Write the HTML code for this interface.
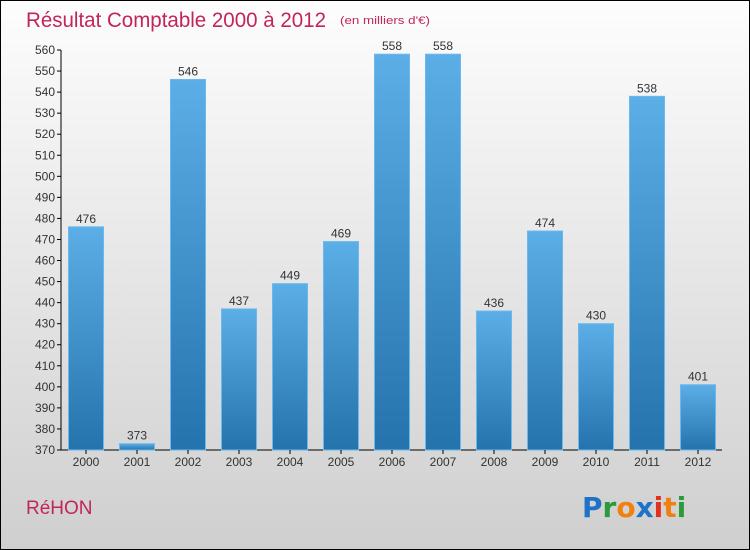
<!DOCTYPE html>
<html><head><meta charset="utf-8"><style>
body{margin:0}
#wrap{width:750px;height:550px;position:relative;box-sizing:border-box;border:1px solid #000;background:linear-gradient(#fdfdfd,#cfcfcf);overflow:hidden;font-family:"Liberation Sans",sans-serif}
svg{position:absolute;left:-1px;top:-1px}
</style></head><body>
<div id="wrap">
<svg width="750" height="550" id="svg">
<defs><linearGradient id="bg" x1="0" y1="0" x2="0" y2="1"><stop offset="0" stop-color="#5caee6"/><stop offset="1" stop-color="#2573ad"/></linearGradient></defs>
<text x="26" y="27" font-size="21" fill="#c2255c" textLength="300" lengthAdjust="spacingAndGlyphs">Résultat Comptable 2000 à 2012</text>
<text x="340" y="24" font-size="11" fill="#c2255c" textLength="90" lengthAdjust="spacingAndGlyphs">(en milliers d'€)</text>
<text x="26" y="514" font-size="19" fill="#c2255c">RéHON</text>
<g font-size="28" font-weight="bold" font-family="'DejaVu Sans',sans-serif">
<text x="582" y="517"><tspan fill="#1e73c8">P</tspan><tspan fill="#2a9a3a">r</tspan><tspan fill="#f08010">o</tspan><tspan fill="#1e73c8">x</tspan><tspan fill="#e03020">i</tspan><tspan fill="#f08010">t</tspan><tspan fill="#2a9a3a">i</tspan></text></g>
<g id="g"></g>
</svg></div>
<script>
const years=["2000","2001","2002","2003","2004","2005","2006","2007","2008","2009","2010","2011","2012"];
const values=[476,373,546,437,449,469,558,558,436,474,430,538,401];
const yTicks=[370,380,390,400,410,420,430,440,450,460,470,480,490,500,510,520,530,540,550,560];
const NS="http://www.w3.org/2000/svg",g=document.getElementById('g');
const y=v=>450-(v-370)*400/190, x=i=>86+51*i;
function mk(t,a,p){const e=document.createElementNS(NS,t);for(const k in a)e.setAttribute(k,a[k]);(p||g).appendChild(e);return e;}
let ax=mk('line',{x1:61,y1:50,x2:61,y2:450,stroke:'#000'});


let bx=mk('line',{x1:61,y1:450,x2:722,y2:450,stroke:'#000'});


yTicks.forEach(v=>{
 mk('line',{x1:57,y1:y(v),x2:61,y2:y(v),stroke:'#000'});
 const t=mk('text',{x:55,y:y(v)+4,'font-size':12,'text-anchor':'end',fill:'#333'});t.textContent=v;
 
 
});
years.forEach((yr,i)=>{
 const v=values[i];
 const r=mk('rect',{x:x(i)-17.5,y:y(v),width:35,height:450-y(v),fill:'url(#bg)',stroke:'#6ab8ee','stroke-width':1});
 
 
 const l=mk('text',{x:x(i),y:y(v)-4,'font-size':12,'text-anchor':'middle',fill:'#333'});l.textContent=v;
 
 
 mk('line',{x1:x(i),y1:450,x2:x(i),y2:454,stroke:'#000'});
 const xl=mk('text',{x:x(i),y:466,'font-size':12,'text-anchor':'middle',fill:'#333'});xl.textContent=yr;
 
 
});
</script>
</body></html>
